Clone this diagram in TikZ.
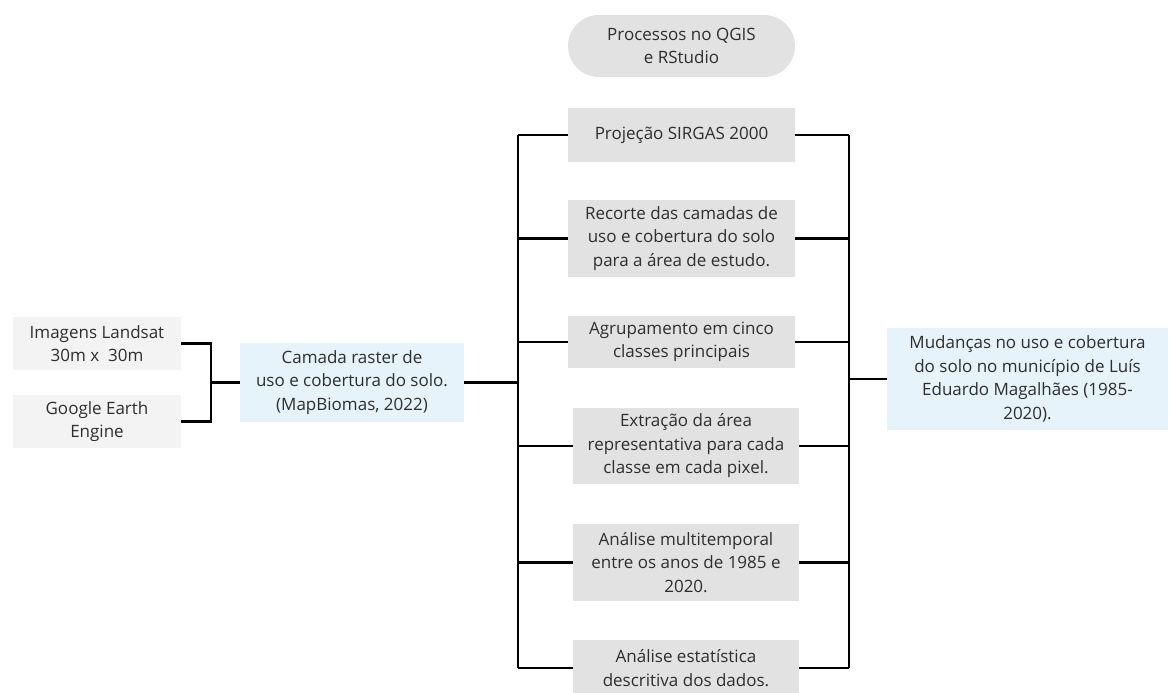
\documentclass[tikz,border=0pt]{standalone}
\usepackage{fontspec}
\setmainfont{Open Sans}
\definecolor{txt}{HTML}{2E2E2E}
\definecolor{boxgray}{HTML}{E2E2E2}
\definecolor{boxlight}{HTML}{F3F3F3}
\definecolor{boxblue}{HTML}{E6F3FB}
\tikzset{
  base/.style={inner sep=0pt, align=center, text=txt, font=\fontsize{17}{23.5}\selectfont},
  graybox/.style={base, fill=boxgray},
  lightbox/.style={base, fill=boxlight},
  bluebox/.style={base, fill=boxblue},
  conn/.style={line width=2.8pt, black, line join=miter},
}
\begin{document}
\begin{tikzpicture}[x=1pt,y=-1pt]
\useasboundingbox (0,0) rectangle (1176,693);
\node[lightbox, minimum width=168pt, minimum height=53pt] (landsat) at (97,343.5) {Imagens Landsat\\30m x\ \ 30m};
\node[lightbox, minimum width=168pt, minimum height=53pt] (google) at (97,421.5) {Google Earth\\Engine};
\node[bluebox, minimum width=224pt, minimum height=79pt] (camada) at (352,382.5) {Camada raster de\\uso e cobertura do solo.\\(MapBiomas, 2022)};
\node[graybox, minimum width=227pt, minimum height=62pt, rounded corners=31pt] (proc) at (681.5,46) {Processos no QGIS\\e RStudio};
\node[graybox, minimum width=227pt, minimum height=54pt] (proj) at (681.5,135) {Projeção SIRGAS 2000};
\node[graybox, minimum width=227pt, minimum height=77pt] (rec) at (681.5,238.5) {Recorte das camadas de\\uso e cobertura do solo\\para a área de estudo.};
\node[graybox, minimum width=227pt, minimum height=52pt] (agr) at (681.5,342) {Agrupamento em cinco\\classes principais};
\node[graybox, minimum width=226pt, minimum height=76pt] (ext) at (686,446) {Extração da área\\representativa para cada\\classe em cada pixel.};
\node[graybox, minimum width=226pt, minimum height=77pt] (mult) at (686,562.5) {Análise multitemporal\\entre os anos de 1985 e\\2020.};
\node[graybox, minimum width=226pt, minimum height=56pt] (est) at (686,668) {Análise estatística\\descritiva dos dados.};
\node[bluebox, minimum width=281pt, minimum height=102pt] (mud) at (1027.5,379) {Mudanças no uso e cobertura\\do solo no município de Luís\\Eduardo Magalhães (1985-\\2020).};
\coordinate (brk) at (211,0);
\coordinate (busL) at (518,0);
\coordinate (busR) at (849,0);
% left bracket
\draw[conn] (landsat.east) -- (landsat.east -| brk) -- (google.east -| brk) -- (google.east);
\draw[conn] (camada.west) -- (camada.west -| brk);
% left bus
\draw[conn] (camada.east) -- (camada.east -| busL);
\draw[conn] (proj.west -| busL) -- (est.west -| busL);
\foreach \n in {proj,rec,agr,ext,mult,est}{
  \draw[conn] (\n.west) -- (\n.west -| busL);
  \draw[conn] (\n.east) -- (\n.east -| busR);
}
% right bus
\draw[conn] (proj.east -| busR) -- (est.east -| busR);
\draw[conn] (mud.west) -- (mud.west -| busR);
\end{tikzpicture}
\end{document}
